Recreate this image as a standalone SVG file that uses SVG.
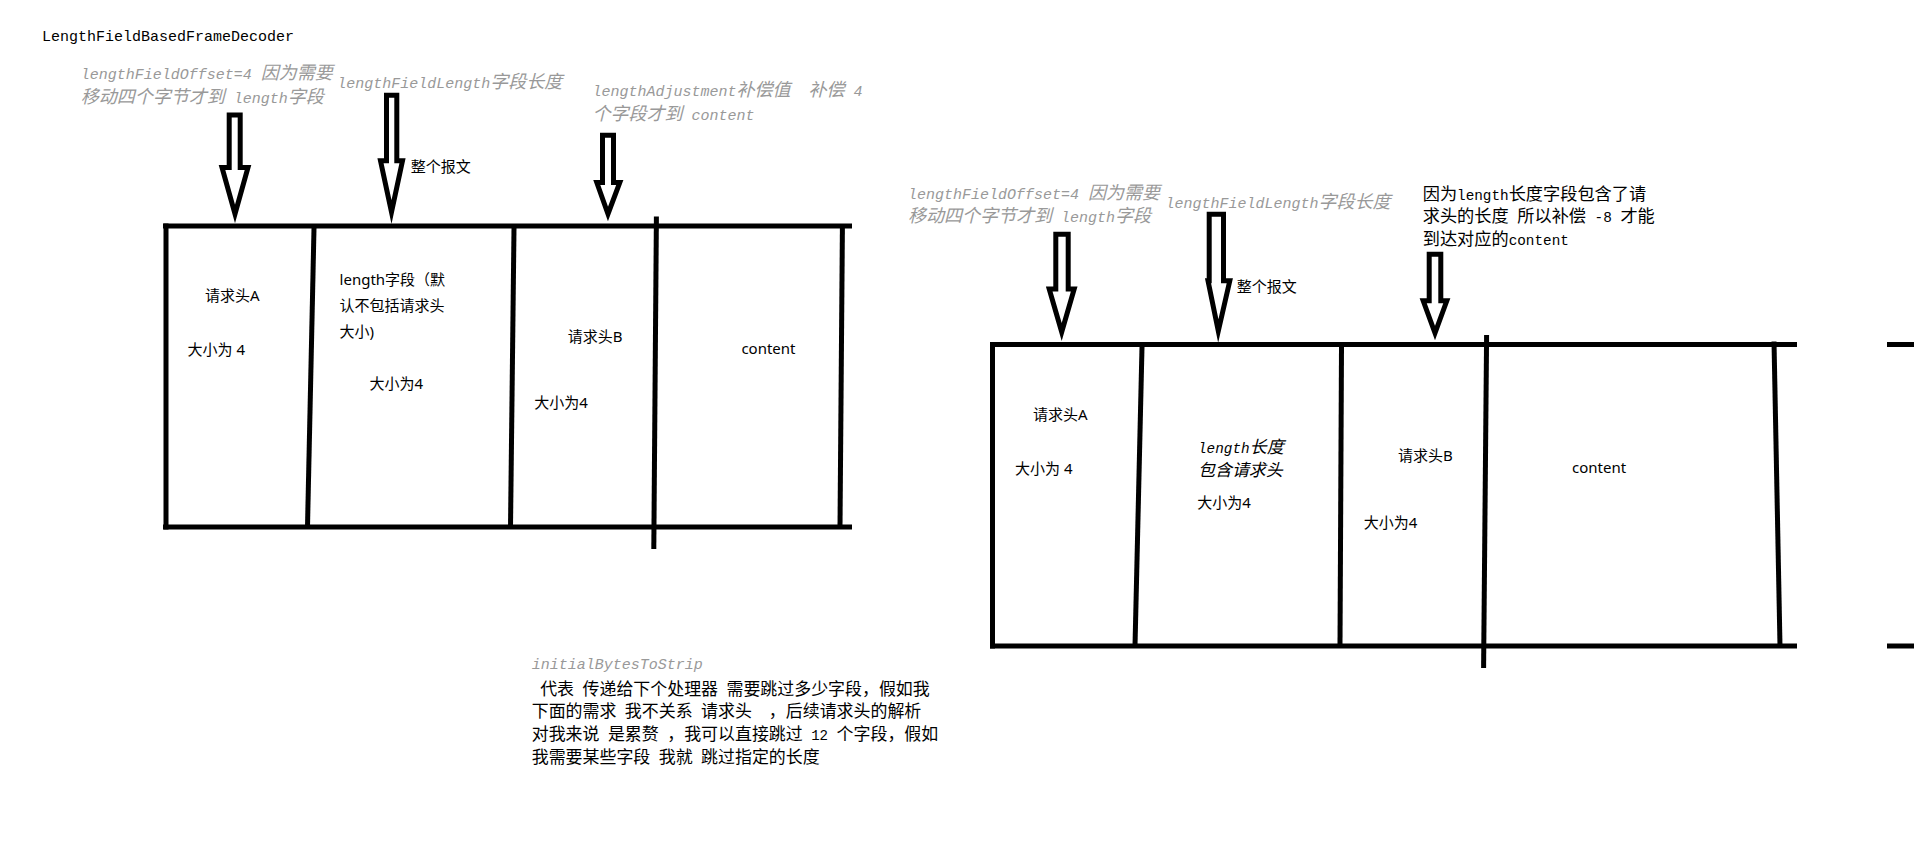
<svg xmlns="http://www.w3.org/2000/svg" width="1914" height="857" viewBox="0 0 1914 857">
<style>
.bg{fill:#fff}
.ln{stroke:#000;stroke-width:5;fill:none;stroke-linecap:butt}
.ar{stroke:#000;stroke-width:5;fill:#fff;stroke-linejoin:miter;stroke-miterlimit:10}
.lb{font-family:"Noto Sans","Noto Sans CJK SC",sans-serif;font-size:15px;fill:#000}
.g{fill:#999;font-style:italic}
.k{fill:#000}
.it{font-style:italic}
.m15{font-family:"Liberation Mono","Noto Sans CJK SC",monospace;font-size:15px}
.c18{font-family:"Noto Sans CJK SC",sans-serif;font-size:18px}
.m143{font-family:"Liberation Mono","Noto Sans CJK SC",monospace;font-size:14.33px}
.c172{font-family:"Noto Sans CJK SC",sans-serif;font-size:17.2px}
.m141{font-family:"Liberation Mono","Noto Sans CJK SC",monospace;font-size:14.12px}
.c169{font-family:"Noto Sans CJK SC",sans-serif;font-size:16.94px}
</style>
<rect class="bg" x="0" y="0" width="1914" height="857"/>

<g id="title">
<text class="k m15" x="42" y="40.5">LengthFieldBasedFrameDecoder</text>
</g>

<!-- Left frame -->
<g id="left-frame">
<line class="ln" x1="163" y1="226" x2="852" y2="226"/>
<line class="ln" x1="163" y1="527" x2="852" y2="527"/>
<line class="ln" x1="166" y1="223.5" x2="166" y2="529.5"/>
<line class="ln" x1="314" y1="228" x2="307.5" y2="527"/>
<line class="ln" x1="514" y1="228" x2="510.5" y2="527"/>
<line class="ln" x1="656.4" y1="216.5" x2="653.8" y2="549"/>
<line class="ln" x1="842.4" y1="228" x2="840" y2="527"/>
</g>

<!-- Right frame -->
<g id="right-frame">
<line class="ln" x1="990" y1="344.5" x2="1797" y2="344.5"/>
<line class="ln" x1="990" y1="646" x2="1797" y2="646"/>
<line class="ln" x1="992.5" y1="342" x2="992.5" y2="648.5"/>
<line class="ln" x1="1142" y1="347" x2="1135" y2="646"/>
<line class="ln" x1="1341.5" y1="347" x2="1340" y2="646"/>
<line class="ln" x1="1486.6" y1="335" x2="1483.6" y2="668"/>
<line class="ln" x1="1774" y1="341.5" x2="1780" y2="646"/>
<line class="ln" x1="1887" y1="344.5" x2="1914" y2="344.5"/>
<line class="ln" x1="1887" y1="646" x2="1914" y2="646"/>
</g>

<g id="connectors">
<path class="ar" d="M229.2,115 L240.2,115 L240.2,167.5 L248,167.5 L235,214 L222,167.5 L229.2,167.5 Z"/>
<path class="ar" d="M386.5,95.2 L396.8,95.2 L396.8,160.8 L402.5,160.8 L391.5,212 L380.5,160.8 L386.5,160.8 Z"/>
<path class="ar" d="M602.5,135.2 L613.5,135.2 L613.5,182.5 L619.8,182.5 L608,214 L596.8,182.5 L602.5,182.5 Z"/>
<path class="ar" d="M1055.8,234.2 L1068.2,234.2 L1068.2,289 L1074.2,289 L1061.7,332 L1049.2,289 L1055.8,289 Z"/>
<path class="ar" d="M1209.2,214.2 L1223.5,214.2 L1223.5,280.8 L1229.8,280.8 L1218.3,331 L1208,280.8 L1209.2,280.8 Z"/>
<path class="ar" d="M1429.2,254.2 L1440.8,254.2 L1440.8,300.8 L1446.8,300.8 L1435,333 L1423.2,300.8 L1429.2,300.8 Z"/>
</g>

<!-- Left annotations -->
<g id="left-notes">
<text class="g" x="80.7" y="79" xml:space="preserve"><tspan class="m15">lengthFieldOffset=4 </tspan><tspan class="c18">因为需要</tspan></text>
<text class="g" x="80.7" y="103" xml:space="preserve"><tspan class="c18">移动四个字节才到</tspan><tspan class="m15"> length</tspan><tspan class="c18">字段</tspan></text>
<text class="g" x="337.3" y="87.5"><tspan class="m15">lengthFieldLength</tspan><tspan class="c18">字段长度</tspan></text>
<text class="g" x="592.4" y="95.8" xml:space="preserve"><tspan class="m15">lengthAdjustment</tspan><tspan class="c18">补偿值</tspan><tspan class="m15">  </tspan><tspan class="c18">补偿</tspan><tspan class="m15"> 4</tspan></text>
<text class="g" x="592.4" y="120" xml:space="preserve"><tspan class="c18">个字段才到</tspan><tspan class="m15"> content</tspan></text>
<text class="lb" x="410.7" y="172.2">整个报文</text>
</g>

<g id="left-cells">
<text class="lb" x="205" y="300.5">请求头A</text>
<text class="lb" x="187.6" y="354.5">大小为 4</text>
<text class="lb" x="339.6" y="284.5">length字段（默</text>
<text class="lb" x="339.6" y="310.5">认不包括请求头</text>
<text class="lb" x="339.6" y="336.5">大小)</text>
<text class="lb" x="369.5" y="388.5">大小为4</text>
<text class="lb" x="567.8" y="341.5">请求头B</text>
<text class="lb" x="534.3" y="407.5">大小为4</text>
<text class="lb" x="741.4" y="354">content</text>
</g>

<!-- Right annotations -->
<g id="right-notes">
<text class="g" x="908" y="199" xml:space="preserve"><tspan class="m15">lengthFieldOffset=4 </tspan><tspan class="c18">因为需要</tspan></text>
<text class="g" x="908" y="221.5" xml:space="preserve"><tspan class="c18">移动四个字节才到</tspan><tspan class="m15"> length</tspan><tspan class="c18">字段</tspan></text>
<text class="g" x="1165.5" y="207.8"><tspan class="m15">lengthFieldLength</tspan><tspan class="c18">字段长度</tspan></text>
<text class="k" x="1422.7" y="199.8"><tspan class="c172">因为</tspan><tspan class="m143">length</tspan><tspan class="c172">长度字段包含了请</tspan></text>
<text class="k" x="1422.7" y="221.5" xml:space="preserve"><tspan class="c172">求头的长度</tspan><tspan class="m143"> </tspan><tspan class="c172">所以补偿</tspan><tspan class="m143"> -8 </tspan><tspan class="c172">才能</tspan></text>
<text class="k" x="1422.7" y="244.8"><tspan class="c172">到达对应的</tspan><tspan class="m143">content</tspan></text>
<text class="lb" x="1236.7" y="292.2">整个报文</text>
</g>

<g id="right-cells">
<text class="lb" x="1033" y="419.5">请求头A</text>
<text class="lb" x="1015" y="473.5">大小为 4</text>
<text class="k it" x="1198" y="452.8"><tspan class="m143">length</tspan><tspan class="c172">长度</tspan></text>
<text class="k it" x="1198" y="475.8"><tspan class="c169">包含请求头</tspan></text>
<text class="lb" x="1197.3" y="508.2">大小为4</text>
<text class="lb" x="1398" y="460.5">请求头B</text>
<text class="lb" x="1363.7" y="527.5">大小为4</text>
<text class="lb" x="1572" y="473">content</text>
</g>

<!-- Bottom note -->
<g id="strip-note">
<text class="g m15" x="531.7" y="669">initialBytesToStrip</text>
<text class="k" x="531.7" y="694.7" xml:space="preserve"><tspan class="m141"> </tspan><tspan class="c169">代表</tspan><tspan class="m141"> </tspan><tspan class="c169">传递给下个处理器</tspan><tspan class="m141"> </tspan><tspan class="c169">需要跳过多少字段，假如我</tspan></text>
<text class="k" x="531.7" y="717.4" xml:space="preserve"><tspan class="c169">下面的需求</tspan><tspan class="m141"> </tspan><tspan class="c169">我不关系</tspan><tspan class="m141"> </tspan><tspan class="c169">请求头</tspan><tspan class="m141">  </tspan><tspan class="c169">，后续请求头的解析</tspan></text>
<text class="k" x="531.7" y="740.4" xml:space="preserve"><tspan class="c169">对我来说</tspan><tspan class="m141"> </tspan><tspan class="c169">是累赘</tspan><tspan class="m141"> </tspan><tspan class="c169">，我可以直接跳过</tspan><tspan class="m141"> 12 </tspan><tspan class="c169">个字段，假如</tspan></text>
<text class="k" x="531.7" y="763" xml:space="preserve"><tspan class="c169">我需要某些字段</tspan><tspan class="m141"> </tspan><tspan class="c169">我就</tspan><tspan class="m141"> </tspan><tspan class="c169">跳过指定的长度</tspan></text>
</g>
</svg>
